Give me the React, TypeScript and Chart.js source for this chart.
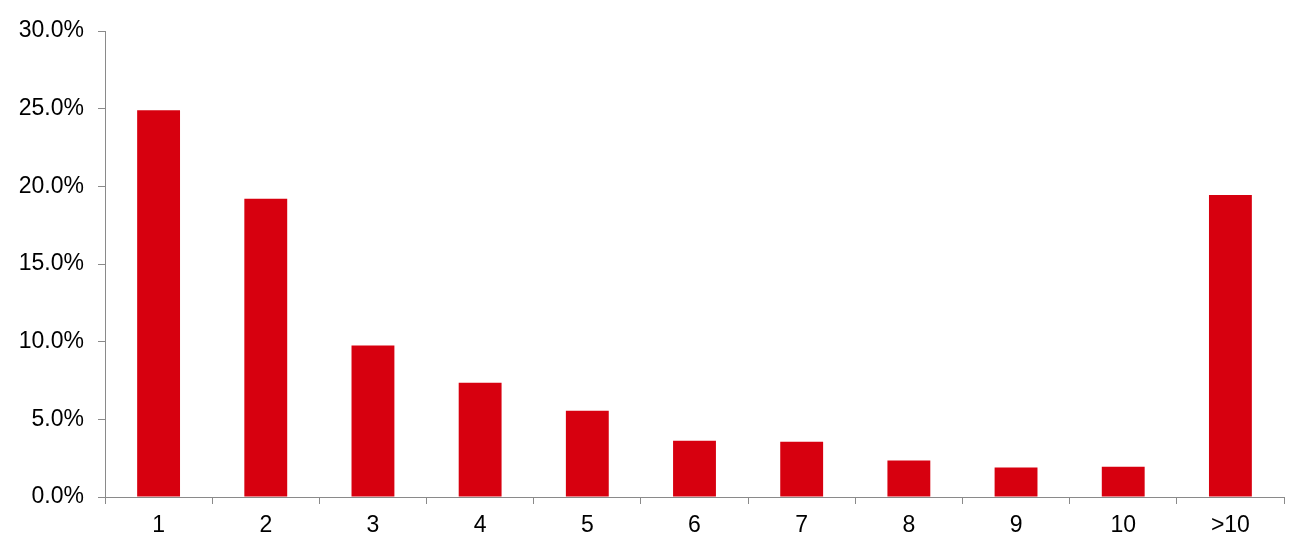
import React, { useEffect, useRef } from "react";
import { Chart, registerables } from "chart.js";

Chart.register(...registerables);

const categories = ["1", "2", "3", "4", "5", "6", "7", "8", "9", "10", ">10"];
const shares = [24.9, 19.2, 9.75, 7.35, 5.55, 3.62, 3.55, 2.35, 1.9, 1.95, 19.45];
const yTicks = [0, 5, 10, 15, 20, 25, 30];

export default function App() {
  const ref = useRef<HTMLCanvasElement>(null);
  useEffect(() => {
    if (!ref.current) return;
    const axisColor = "#8a8a8a";
    const font = { family: "'Liberation Sans', Arial, Helvetica, sans-serif", size: 23 };
    const chart = new Chart(ref.current, {
      type: "bar",
      data: {
        labels: categories,
        datasets: [
          {
            data: shares,
            backgroundColor: "#D7000F",
            borderWidth: 0,
            categoryPercentage: 1,
            barPercentage: 0.4,
          },
        ],
      },
      options: {
        animation: false,
        responsive: false,
        maintainAspectRatio: false,
        layout: { padding: { top: 31, right: 21, bottom: 0, left: 0 } },
        plugins: { legend: { display: false }, tooltip: { enabled: false } },
        scales: {
          x: {
            grid: {
              display: true,
              drawOnChartArea: false,
              drawTicks: true,
              tickLength: 7,
              color: axisColor,
              offset: true,
            },
            border: { display: true, color: axisColor, width: 1 },
            ticks: { color: "#000", font, padding: 8, maxRotation: 0 },
            afterFit: (s: any) => {
              s.height = 49;
            },
          },
          y: {
            min: 0,
            max: 30,
            afterBuildTicks: (s: any) => {
              s.ticks = yTicks.map((v) => ({ value: v }));
            },
            grid: {
              display: true,
              drawOnChartArea: false,
              drawTicks: true,
              tickLength: 7,
              color: axisColor,
            },
            border: { display: true, color: axisColor, width: 1 },
            ticks: {
              color: "#000",
              font,
              padding: 14,
              callback: (v: any) => Number(v).toFixed(1) + "%",
            },
            afterFit: (s: any) => {
              s.width = 105;
            },
          },
        },
      },
    });
    return () => chart.destroy();
  }, []);
  return (
    <div style={{ position: "fixed", left: 0, top: 0, width: 1305, height: 546, background: "#fff" }}>
      <canvas ref={ref} width={1305} height={546} style={{ width: 1305, height: 546 }} />
    </div>
  );
}
